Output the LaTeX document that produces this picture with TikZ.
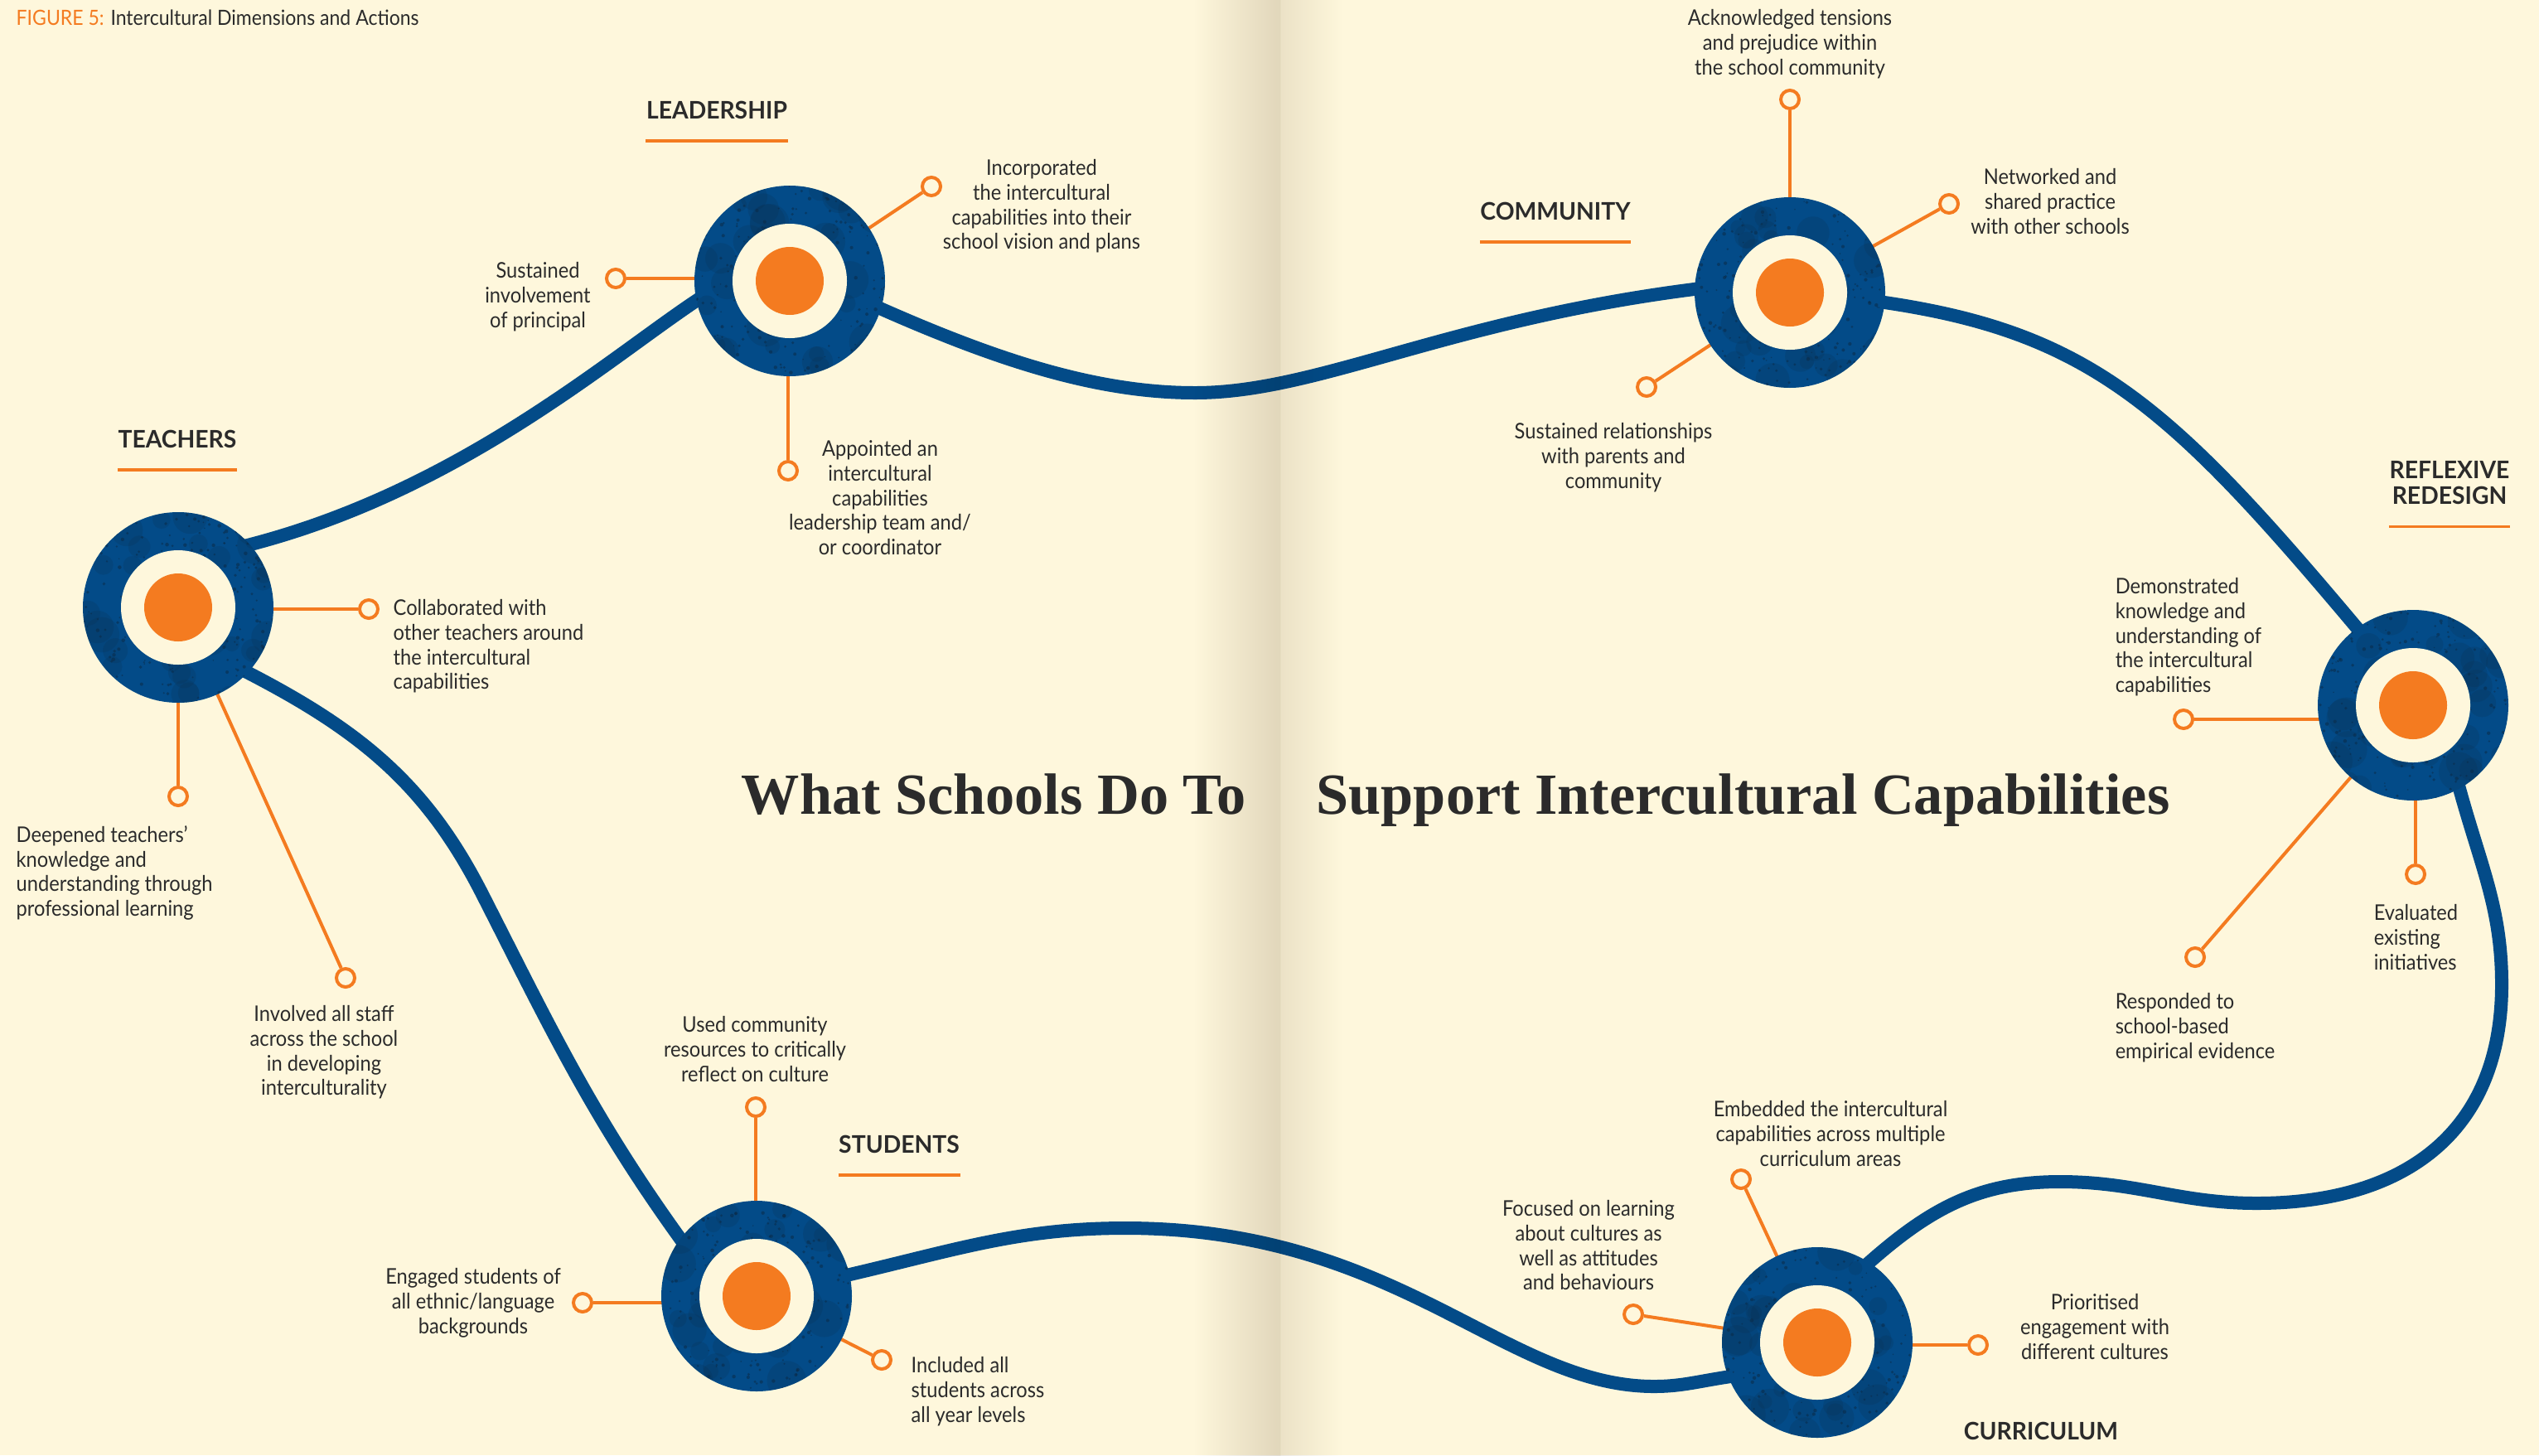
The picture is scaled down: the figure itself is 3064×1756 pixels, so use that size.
\documentclass[tikz,border=0pt]{standalone}
\usepackage{fontspec}
\setsansfont{Lato}[FakeStretch=0.91]
\newfontfamily\headfont{Lato}[FakeStretch=0.97]
\newfontfamily\titlefont{Liberation Serif}
\usetikzlibrary{positioning}

\definecolor{paper}{HTML}{FEF7DC}
\definecolor{foldmul}{HTML}{E2DED9}
\definecolor{navy}{HTML}{034B88}
\definecolor{speck}{HTML}{0B2B48}
\definecolor{accent}{HTML}{F47B20}
\definecolor{ink}{HTML}{2B2B2B}

\pgfdeclarelayer{sheet}
\pgfdeclarelayer{track}
\pgfdeclarelayer{gutter}
\pgfsetlayers{sheet,track,main,gutter}

\tikzset{
  hub/.style={circle, fill=navy, minimum size=23mm, inner sep=0pt,
    path picture={
      \foreach \i in {1,...,40}
        \fill[speck, opacity=0.18] ([shift={({rand*11mm},{rand*11mm})}]path picture bounding box.center) circle ({0.8mm+1.6mm*rnd});
      \foreach \i in {1,...,260}
        \fill[speck, opacity=0.55] ([shift={({rand*11.5mm},{rand*11.5mm})}]path picture bounding box.center) circle ({0.08mm+0.15mm*rnd});
      \fill[paper] (path picture bounding box.center) circle (6.9mm);
      \fill[accent] (path picture bounding box.center) circle (4.1mm);}},
  knob/.style={circle, draw=accent, line width=0.4mm, fill=paper, minimum size=2.2mm, inner sep=0pt},
  spoke/.style={accent, line width=0.4mm},
  road/.style={navy, line width=1.6mm, line cap=round, shorten <=-1mm, shorten >=-1mm},
  action/.style={font=\sffamily\fontsize{7.4}{8.42}\selectfont, text=ink, inner sep=0pt, align=center},
  actionL/.style={action, align=left},
  dimhead/.style={font=\headfont\bfseries\fontsize{8.3}{8.8}\selectfont, text=ink, inner sep=0pt, align=center},
  rule/.style={accent, line width=0.35mm}
}

\begin{document}
\begin{tikzpicture}[x=0.1mm, y=0.1mm]
\useasboundingbox (0,0) rectangle (3064,-1756);
\begin{pgfonlayer}{sheet}
\fill[paper] (0,0) rectangle (3064,-1756);
\end{pgfonlayer}
\begin{pgfonlayer}{gutter}
\begin{scope}[blend mode=multiply]
\shade[left color=white, right color=foldmul] (1440,0) rectangle (1545,-1756);
\shade[left color=foldmul!65!white, right color=white] (1545,0) rectangle (1620,-1756);
\end{scope}
\end{pgfonlayer}

% dimensions
\pgfmathsetseed{7}
\node[hub] (T) at (215,-733) {};
\node[hub] (L) at (953,-339) {};
\node[hub] (C) at (2160,-353) {};
\node[hub] (R) at (2912,-851) {};
\node[hub] (K) at (2193,-1620) {};
\node[hub] (S) at (913,-1564) {};

% way points of the road
\coordinate (lc) at (1442,-474);
\coordinate (re) at (3019,-1188);
\coordinate (rk1) at (2723,-1452);
\coordinate (rk2) at (2486,-1426);
\coordinate (ks) at (1996,-1673);
\coordinate (sk) at (1358,-1482);
\coordinate (st) at (582,-1079);

\begin{pgfonlayer}{track}
\draw[road] (T.41) .. controls +(14:260) and +(213:120) .. (L.192);
\draw[road] (L.-17) .. controls +(-24:150) and +(180:120) .. (lc)
  .. controls +(0:150) and +(187:300) .. (C.178);
\draw[road] (C.-6) .. controls +(-8:250) and +(130:350) .. (R.126);
\draw[road] (R.-61) to[out=-75,in=90] (re) to[out=-90,in=0,looseness=1.15] (rk1)
  to[out=180,in=0] (rk2) to[out=180,in=42] (K.57);
\draw[road] (K.201) to[out=188,in=0] (ks) .. controls +(180:180) and +(0:330) .. (sk)
  .. controls +(180:130) and +(13:130) .. (S.13);
\draw[road] (S.143) .. controls +(126:180) and +(-63:180) .. (st)
  .. controls +(117:150) and +(-27:150) .. (T.-43);
\end{pgfonlayer}

% actions
\node[knob] (t1) at (445,-735) {};
\node[knob] (t2) at (215,-961) {};
\node[knob] (t3) at (417,-1180) {};
\node[knob] (l1) at (743,-336) {};
\node[knob] (l2) at (1124,-225) {};
\node[knob] (l3) at (951,-568) {};
\node[knob] (c1) at (2160,-120) {};
\node[knob] (c2) at (2352,-246) {};
\node[knob] (c3) at (1987,-467) {};
\node[knob] (r1) at (2635,-868) {};
\node[knob] (r2) at (2915,-1055) {};
\node[knob] (r3) at (2649,-1155) {};
\node[knob] (k1) at (2101,-1423) {};
\node[knob] (k2) at (1971,-1586) {};
\node[knob] (k3) at (2387,-1623) {};
\node[knob] (s1) at (912,-1336) {};
\node[knob] (s2) at (703,-1572) {};
\node[knob] (s3) at (1064,-1641) {};

\begin{pgfonlayer}{track}
\draw[spoke] (t1) -- (t1 -| T.center);
\draw[spoke] (t2) -- (t2 |- T.center);
\draw[spoke] (t3) -- (T.center);
\draw[spoke] (l1) -- (l1 -| L.center);
\draw[spoke] (l2) -- (L.center);
\draw[spoke] (l3) -- (l3 |- L.center);
\draw[spoke] (c1) -- (c1 |- C.center);
\draw[spoke] (c2) -- (C.center);
\draw[spoke] (c3) -- (C.center);
\draw[spoke] (r1) -- (r1 -| R.center);
\draw[spoke] (r2) -- (r2 |- R.center);
\draw[spoke] (r3) -- (R.center);
\draw[spoke] (k1) -- (K.center);
\draw[spoke] (k2) -- (K.center);
\draw[spoke] (k3) -- (k3 -| K.center);
\draw[spoke] (s1) -- (s1 |- S.center);
\draw[spoke] (s2) -- (s2 -| S.center);
\draw[spoke] (s3) -- (S.center);
\end{pgfonlayer}

\node[actionL, anchor=north west] (t1x) at (474,-723) {Collaborated with\\other teachers around\\the intercultural\\capabilities};
\node[actionL, anchor=north west] (t2x) at (19,-996) {Deepened teachers’\\knowledge and\\understanding through\\professional learning};
\node[action, anchor=north] (t3x) at (391,-1213) {Involved all staff\\across the school\\in developing\\interculturality};
\node[action, anchor=north] (l1x) at (649,-316) {Sustained\\involvement\\of principal};
\node[action, anchor=north] (l2x) at (1257,-192) {Incorporated\\the intercultural\\capabilities into their\\school vision and plans};
\node[action, anchor=north] (l3x) at (1062,-531) {Appointed an\\intercultural\\capabilities\\leadership team and/\\or coordinator};
\node[action, anchor=north] (c1x) at (2160,-11) {Acknowledged tensions\\and prejudice within\\the school community};
\node[action, anchor=north] (c2x) at (2474,-203) {Networked and\\shared practice\\with other schools};
\node[action, anchor=north] (c3x) at (1947,-510) {Sustained relationships\\with parents and\\community};
\node[actionL, anchor=north west] (r1x) at (2552,-697) {Demonstrated\\knowledge and\\understanding of\\the intercultural\\capabilities};
\node[actionL, anchor=north west] (r2x) at (2864,-1091) {Evaluated\\existing\\initiatives};
\node[actionL, anchor=north west] (r3x) at (2552,-1198) {Responded to\\school-based\\empirical evidence};
\node[action, anchor=north] (k1x) at (2209,-1328) {Embedded the intercultural\\capabilities across multiple\\curriculum areas};
\node[action, anchor=north] (k2x) at (1917,-1448) {Focused on learning\\about cultures as\\well as attitudes\\and behaviours};
\node[action, anchor=north] (k3x) at (2528,-1561) {Prioritised\\engagement with\\different cultures};
\node[action, anchor=north] (s1x) at (911,-1226) {Used community\\resources to critically\\reflect on culture};
\node[action, anchor=north] (s2x) at (571,-1530) {Engaged students of\\all ethnic/language\\backgrounds};
\node[actionL, anchor=north west] (s3x) at (1099,-1637) {Included all\\students across\\all year levels};

% headings
\node[dimhead] (Th) at (214,-530) {TEACHERS};
\node[dimhead] (Lh) at (865,-133) {LEADERSHIP};
\node[dimhead] (Ch) at (1877,-255) {COMMUNITY};
\node[dimhead] (Rh) at (2956,-583) {REFLEXIVE\\REDESIGN};
\node[dimhead] (Sh) at (1085,-1381) {STUDENTS};
\node[dimhead] (Kh) at (2463,-1727) {CURRICULUM};
\foreach \h in {Th,Lh,Ch,Rh,Sh}
  \draw[rule] ([yshift=-2.55mm]\h.south west) -- ([yshift=-2.55mm]\h.south east);

% title and caption
\node[font=\titlefont\bfseries\fontsize{20}{24}\selectfont, text=ink, inner sep=0pt, anchor=base west] (ttl1) at (894,-982) {What Schools Do To};
\node[font=\titlefont\bfseries\fontsize{20}{24}\selectfont, text=ink, inner sep=0pt, anchor=base west] (ttl2) at (1588,-982) {Support Intercultural Capabilities};
\node[font=\sffamily\fontsize{7.2}{7.8}\selectfont, text=ink, inner sep=0pt, anchor=west] (cap) at (19,-21) {\textcolor{accent}{FIGURE 5:} Intercultural Dimensions and Actions};
\end{tikzpicture}
\end{document}
